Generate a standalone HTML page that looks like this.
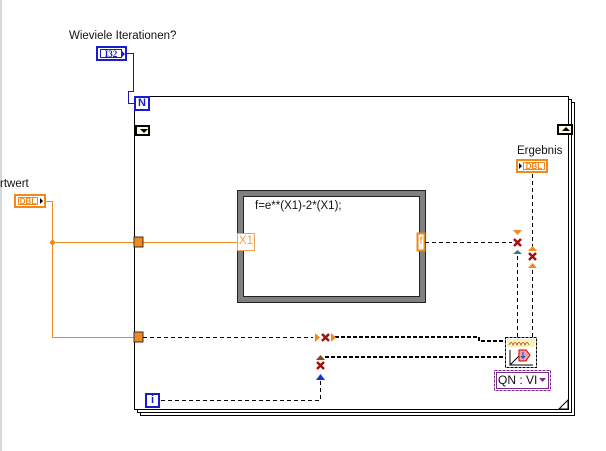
<!DOCTYPE html>
<html><head><style>
body{margin:0;width:606px;height:451px;background:#fff;position:relative;overflow:hidden;font-family:"Liberation Sans",sans-serif;}
.a{position:absolute;box-sizing:border-box;}
.t{position:absolute;font-size:11.5px;color:#111;white-space:nowrap;}
</style></head><body>
<div class="a" style="left:0;top:0;width:2px;height:451px;background:#d8d8d8"></div>
<svg class="a" style="left:0;top:0" width="606" height="451">
 <rect x="140.5" y="102.5" width="434" height="313" fill="#fff" stroke="#000"/>
 <rect x="137.5" y="99.5" width="434" height="313" fill="#fff" stroke="#000"/>
 <rect x="134.5" y="96.5" width="434" height="313" fill="#fff" stroke="#000"/>
 <path d="M559 409 L568 400 L568 409 Z" fill="#fff" stroke="#000"/>
 <path d="M127 53.5 H133.5 V91.5 H128.5 V103.5 H135" fill="none" stroke="#1a1aa8"/>
 <path d="M46 201.5 H52.5 V337.5 H135 M52 242.5 H238" fill="none" stroke="#f08a1c"/>
 <circle cx="52.5" cy="242.5" r="2.5" fill="#f08a1c"/>
 <rect x="134" y="237" width="9" height="10" fill="#f08a1c" stroke="#333"/>
 <rect x="134" y="332" width="9" height="10" fill="#f08a1c" stroke="#333"/>
 <rect x="240" y="193" width="182" height="106" fill="#fff" stroke="#808080" stroke-width="6"/>
 <rect x="237.5" y="190.5" width="188" height="112" fill="none" stroke="#222"/>
 <rect x="243.5" y="196.5" width="176" height="100" fill="none" stroke="#222"/>
 <rect x="237.5" y="233.5" width="17" height="17" fill="#fff" stroke="#f0a050"/>
 <rect x="417.5" y="233.5" width="7" height="17" fill="#fff" stroke="#f08a1c" stroke-width="2"/>
 <g fill="none" stroke="#000" stroke-dasharray="4,3">
  <path d="M425 242.5 H512"/>
  <path d="M517.5 256 V340"/>
  <path d="M532.5 174 V250"/>
  <path d="M532.5 270 V340"/>
  <path d="M143 337.5 H313"/>
  <path d="M320.5 381 V400.5 H160"/>
 </g>
 <g fill="none" stroke="#000" stroke-width="2" stroke-dasharray="4,2">
  <path d="M335 337 H479 V341 H506"/>
  <path d="M325 357 H506"/>
 </g>
 <g stroke="#a01010" stroke-width="2.5">
  <path d="M514 239 L521 246 M521 239 L514 246"/>
  <path d="M529 253 L536 260 M536 253 L529 260"/>
  <path d="M322 334 L329 341 M329 334 L322 341"/>
  <path d="M317 362 L324 369 M324 362 L317 369"/>
 </g>
 <path d="M513 230 H522 L517.5 235 Z" fill="#f08a1c"/>
 <path d="M513 254 H522 L517.5 250 Z" fill="#2a8080"/>
 <path d="M528 251 H537 L532.5 246 Z" fill="#f08a1c"/>
 <path d="M528 268 H537 L532.5 263 Z" fill="#f08a1c"/>
 <path d="M315 333 V342 L320 337.5 Z" fill="#f08a1c"/>
 <path d="M331 333 V342 L336 337.5 Z" fill="#f08a1c"/>
 <path d="M316 360 H325 L320.5 355 Z" fill="#8a4a10"/>
 <path d="M316 380 H325 L320.5 374 Z" fill="#1a2ae0"/>
 <rect x="505.5" y="337.5" width="31" height="30" fill="#fff" stroke="#000" stroke-dasharray="3,1"/>
 <rect x="507" y="339" width="28" height="8" fill="#f6f2c0"/>
 <path d="M509 345 q2 -5 4 0 q2 -5 4 0 q2 -5 4 0 q2 -5 4 0 q2 -5 4 0" fill="none" stroke="#c04000" stroke-width="0.8"/>
 <path d="M510 350 V365 H533 M510 365 L520 355" fill="none" stroke="#000"/>
 <path d="M519 350 h7 l4 5 l-4 6 h-7 z" fill="#f4a0a0" stroke="#c00"/>
 <path d="M523 352 v6 m-2 -2 l2 2 l2 -2" fill="none" stroke="#1040d0"/>
 <rect x="494.5" y="370.5" width="56" height="20" fill="#fff" stroke="#7a2a8a" stroke-dasharray="3,1"/>
 <rect x="496.5" y="372.5" width="52" height="16" fill="none" stroke="#7a2a8a"/>
 <path d="M539 378 H546 L542.5 382 Z" fill="#7a2a8a"/>
</svg>
<div class="a" style="left:96px;top:46px;width:31px;height:15px;border:2px solid #1a1ad0;background:#fff"><div class="a" style="left:2px;top:1px;width:22px;height:9px;border:1px solid #1a1ad0;font:bold 9px 'Liberation Serif',serif;color:#1a1ad0;text-align:center;line-height:8px">I32</div><div class="a" style="left:24px;top:3px;width:0;height:0;border-left:3px solid #1a1ad0;border-top:3px solid transparent;border-bottom:3px solid transparent"></div></div>
<div class="a" style="left:134px;top:96px;width:16px;height:15px;border:2px solid #1a1ad0;background:#fff;font:bold 11px 'Liberation Sans',sans-serif;color:#1a1ad0;text-align:center;line-height:11px">N</div>
<div class="a" style="left:135px;top:125px;width:15px;height:11px;border:2px solid #000;background:#fffbe0"><div class="a" style="left:3px;top:2px;border-top:4px solid #000;border-left:4px solid transparent;border-right:4px solid transparent"></div></div>
<div class="a" style="left:557px;top:124px;width:16px;height:11px;border:2px solid #000;background:#fffbe0"><div class="a" style="left:3px;top:1px;border-bottom:4px solid #000;border-left:4px solid transparent;border-right:4px solid transparent"></div></div>
<div class="a" style="left:14px;top:194px;width:32px;height:14px;border:2px solid #f08a1c;background:#fff"><div class="a" style="left:2px;top:1px;width:20px;height:8px;border:1px solid #f08a1c;font:bold 8px 'Liberation Sans',sans-serif;color:#f08a1c;text-align:center;line-height:7px">DBL</div><div class="a" style="left:24px;top:2px;border-left:3px solid #000;border-top:3px solid transparent;border-bottom:3px solid transparent"></div></div>
<div class="a" style="left:516px;top:159px;width:32px;height:14px;border:2px solid #f08a1c;background:#fff"><div class="a" style="left:1px;top:2px;border-left:3px solid #000;border-top:3px solid transparent;border-bottom:3px solid transparent"></div><div class="a" style="left:5px;top:1px;width:22px;height:8px;border:1px solid #f08a1c;font:bold 8px 'Liberation Sans',sans-serif;color:#f08a1c;text-align:center;line-height:7px">DBL</div></div>
<div class="a" style="left:145px;top:393px;width:15px;height:15px;border:2px solid #1a1ad0;background:#fff;font:bold 11px 'Liberation Sans',sans-serif;color:#1a1ad0;text-align:center;line-height:11px">i</div>
<div class="t" style="left:69px;top:30px">Wieviele Iterationen?</div>
<div class="t" style="left:0px;top:178px">rtwert</div>
<div class="t" style="left:517px;top:145px">Ergebnis</div>
<div class="t" style="left:255px;top:200px">f=e**(X1)-2*(X1);</div>
<div class="t" style="left:239px;top:235px;color:#f0a050">X1</div>
<div class="a" style="left:418px;top:236px;width:6px;height:13px;color:#f08a1c;font:10px 'Liberation Sans',sans-serif;line-height:12px;text-align:center">f</div>
<div class="t" style="left:498px;top:373px;font-size:12px">QN : VI</div>
</body></html>
